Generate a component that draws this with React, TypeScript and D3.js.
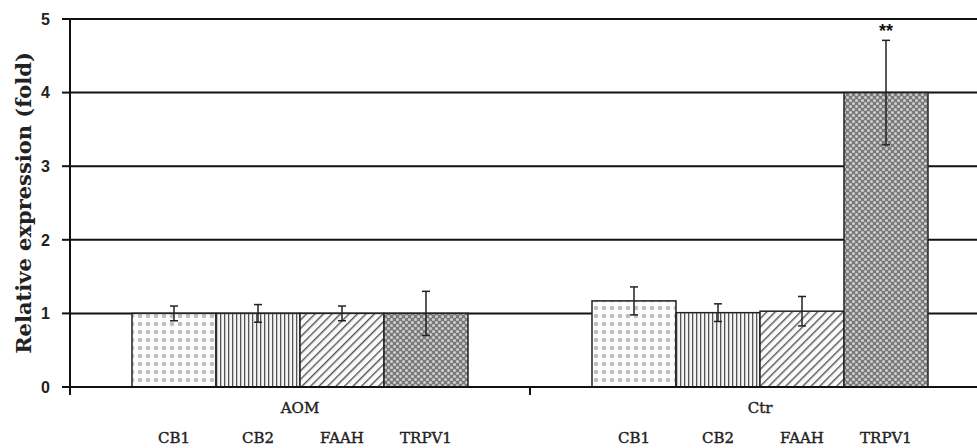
import React from "react";
import * as d3 from "d3";

const groups = ["AOM", "Ctr"];
const genes = ["CB1", "CB2", "FAAH", "TRPV1"];
const aomValues = [1.0, 1.0, 1.0, 1.0];
const aomErrors = [0.1, 0.12, 0.1, 0.3];
const ctrValues = [1.17, 1.01, 1.03, 4.0];
const ctrErrors = [0.19, 0.12, 0.2, 0.71];
const yTicks = [0, 1, 2, 3, 4, 5];
const marks = ["", "", "", "**"];

const width = 977;
const height = 448;
const margin = { top: 19, right: -13, bottom: 61, left: 70 };

const App = () => {
  const x0 = d3
    .scaleBand()
    .domain(groups)
    .range([margin.left, width - margin.right])
    .padding(0);

  const x1 = d3
    .scaleBand()
    .domain(genes)
    .range([0, x0.bandwidth()])
    .paddingInner(0)
    .paddingOuter(0.738);

  const y = d3
    .scaleLinear()
    .domain([0, 5])
    .range([height - margin.bottom, margin.top]);

  const series = [
    { group: "AOM", values: aomValues, errors: aomErrors },
    { group: "Ctr", values: ctrValues, errors: ctrErrors },
  ];

  const fills = ["url(#pDots)", "url(#pVert)", "url(#pDiag)", "url(#pDense)"];
  const serif = "'DejaVu Serif', serif";
  const sans = "'Liberation Sans', Arial, sans-serif";

  return (
    <svg
      width={width}
      height={height}
      style={{ position: "absolute", left: 0, top: 0, background: "#fff" }}
    >
      <defs>
        <pattern id="pDots" width="8" height="8" patternUnits="userSpaceOnUse">
          <rect width="8" height="8" fill="#fbfbfb" />
          <circle cx="4" cy="4" r="2.3" fill="#bdbdbd" />
        </pattern>
        <pattern id="pVert" width="4" height="4" patternUnits="userSpaceOnUse">
          <rect width="4" height="4" fill="#f4f4f4" />
          <rect x="0" width="1.3" height="4" fill="#555" />
        </pattern>
        <pattern
          id="pDiag"
          width="6"
          height="6"
          patternUnits="userSpaceOnUse"
          patternTransform="rotate(45)"
        >
          <rect width="6" height="6" fill="#fafafa" />
          <rect x="0" width="1.4" height="6" fill="#555" />
        </pattern>
        <pattern id="pDense" width="6" height="6" patternUnits="userSpaceOnUse">
          <rect width="6" height="6" fill="#7a7a7a" />
          <circle cx="1.5" cy="1.5" r="1.5" fill="#d0d0d0" />
          <circle cx="4.5" cy="4.5" r="1.5" fill="#d0d0d0" />
        </pattern>
      </defs>

      {/* gridlines */}
      {yTicks.slice(1).map((t) => (
        <line
          key={t}
          x1={margin.left}
          x2={width}
          y1={y(t)}
          y2={y(t)}
          stroke="#111"
          strokeWidth={2}
        />
      ))}

      {/* bars */}
      {series.map((s) =>
        s.values.map((v, i) => {
          const bx = (x0(s.group) ?? 0) + (x1(genes[i]) ?? 0);
          return (
            <rect
              key={s.group + i}
              x={bx}
              y={y(v)}
              width={x1.bandwidth()}
              height={y(0) - y(v)}
              fill={fills[i]}
              stroke="#222"
              strokeWidth={1.5}
            />
          );
        })
      )}

      {/* error bars */}
      {series.map((s) =>
        s.values.map((v, i) => {
          const cx =
            (x0(s.group) ?? 0) + (x1(genes[i]) ?? 0) + x1.bandwidth() / 2;
          const e = s.errors[i];
          return (
            <g key={"e" + s.group + i} stroke="#222" strokeWidth={1.5}>
              <line x1={cx} x2={cx} y1={y(v + e)} y2={y(v - e)} />
              <line x1={cx - 4} x2={cx + 4} y1={y(v + e)} y2={y(v + e)} />
              <line x1={cx - 4} x2={cx + 4} y1={y(v - e)} y2={y(v - e)} />
            </g>
          );
        })
      )}

      {/* significance */}
      {ctrValues.map((v, i) =>
        marks[i] ? (
          <text
            key={"m" + i}
            x={(x0("Ctr") ?? 0) + (x1(genes[i]) ?? 0) + x1.bandwidth() / 2}
            y={y(v + ctrErrors[i]) - 3}
            textAnchor="middle"
            fontFamily={sans}
            fontWeight="bold"
            fontSize={18}
            fill="#111"
          >
            {marks[i]}
          </text>
        ) : null
      )}

      {/* y axis */}
      <line
        x1={margin.left}
        x2={margin.left}
        y1={margin.top}
        y2={y(0) + 8}
        stroke="#111"
        strokeWidth={2}
      />
      {yTicks.map((t) => (
        <g key={"t" + t}>
          <line
            x1={margin.left - 8}
            x2={margin.left}
            y1={y(t)}
            y2={y(t)}
            stroke="#111"
            strokeWidth={2}
          />
          <text
            x={margin.left - 20}
            y={y(t)}
            dy="0.36em"
            textAnchor="end"
            fontFamily={sans}
            fontWeight="bold"
            fontSize={16}
            fill="#222"
          >
            {t}
          </text>
        </g>
      ))}
      <text
        transform={`translate(31, ${(margin.top + y(0)) / 2}) rotate(-90)`}
        textAnchor="middle"
        fontFamily={serif}
        fontWeight="bold"
        fontSize={21}
        fill="#222"
      >
        Relative expression (fold)
      </text>

      {/* x axis */}
      <line
        x1={margin.left}
        x2={width}
        y1={y(0)}
        y2={y(0)}
        stroke="#111"
        strokeWidth={2}
      />
      {groups.map((g) => (
        <g key={"g" + g}>
          <line
            x1={(x0(g) ?? 0) + x0.bandwidth()}
            x2={(x0(g) ?? 0) + x0.bandwidth()}
            y1={y(0)}
            y2={y(0) + 8}
            stroke="#111"
            strokeWidth={2}
          />
          <text
            x={(x0(g) ?? 0) + x0.bandwidth() / 2}
            y={413}
            textAnchor="middle"
            fontFamily={serif}
            fontSize={15}
            stroke="#222"
            strokeWidth={0.4}
            fill="#222"
          >
            {g}
          </text>
          {genes.map((gene) => (
            <text
              key={g + gene}
              x={(x0(g) ?? 0) + (x1(gene) ?? 0) + x1.bandwidth() / 2}
              y={443}
              textAnchor="middle"
              fontFamily={serif}
              fontSize={15}
              stroke="#222"
              strokeWidth={0.4}
              fill="#222"
            >
              {gene}
            </text>
          ))}
        </g>
      ))}
    </svg>
  );
};

export default App;
